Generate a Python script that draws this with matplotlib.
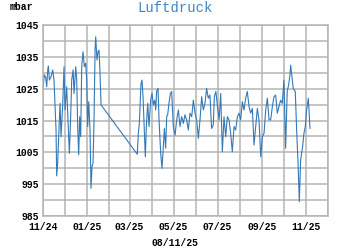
"""Luftdruck (air pressure) chart, Nov 2024 - Nov 2025, small web widget style."""

import datetime as dt

import matplotlib

matplotlib.use("Agg")

import matplotlib.dates as mdates  # noqa: E402
import matplotlib.pyplot as plt  # noqa: E402
import numpy as np  # noqa: E402

START = dt.datetime(2024, 11, 1)

# days since START, pressure in mbar
days = [
    0.0, 1.8, 3.7, 5.1, 6.5, 7.4, 8.8, 11.1, 13.4, 15.2,
    18.0, 18.9, 20.3, 22.2, 23.6, 24.9, 27.3, 29.1, 30.5, 32.8,
    34.2, 36.5, 38.3, 39.7, 41.6, 43.0, 45.3, 46.7, 48.0, 49.4,
    50.8, 52.2, 53.6, 55.4, 57.3, 59.1, 60.5, 61.9, 63.3, 65.1,
    66.5, 67.9, 69.3, 70.7, 72.1, 73.0, 74.8, 76.2, 77.6, 79.0,
    80.4, 130.7, 132.1, 133.5, 135.8, 137.2, 138.6, 141.8, 143.2, 145.1,
    146.9, 149.2, 151.1, 152.9, 154.8, 156.2, 157.5, 159.4, 160.8, 163.1,
    164.9, 166.8, 168.2, 170.0, 171.4, 172.8, 174.6, 176.5, 178.3, 180.6,
    183.0, 185.3, 187.6, 189.9, 192.2, 194.5, 196.8, 199.1, 201.4, 203.7,
    206.1, 208.4, 210.7, 213.0, 215.3, 217.6, 219.9, 222.2, 224.5, 226.8,
    229.1, 231.4, 233.7, 236.0, 237.5, 239.6, 241.8, 244.1, 246.3, 248.6,
    250.9, 253.2, 255.5, 257.8, 260.1, 262.4, 264.8, 267.1, 269.4, 271.7,
    274.0, 276.3, 278.6, 280.9, 283.2, 285.6, 287.9, 290.2, 292.5, 294.8,
    297.1, 299.4, 301.8, 304.1, 306.4, 308.7, 311.0, 313.3, 315.6, 317.9,
    320.2, 322.5, 324.8, 327.1, 329.4, 331.7, 334.0, 336.3, 338.5, 340.5,
    342.3, 343.3, 345.1, 346.9, 349.7, 351.6, 353.9, 355.3, 357.1, 359.9,
    361.7, 363.6, 365.4, 367.8, 370.1,
]
pressure = [
    1025.1, 1029.3, 1028.6, 1025.6, 1030.9, 1032.1, 1027.7, 1028.8, 1030.9, 1027.7,
    1012.0, 997.6, 1001.6, 1013.1, 1020.4, 1009.9, 1020.4, 1031.9, 1018.3, 1025.6,
    1017.3, 1004.7, 1016.2, 1027.7, 1030.9, 1023.5, 1031.9, 1027.7, 1013.1, 1004.2,
    1016.2, 1009.9, 1031.9, 1036.6, 1031.9, 1033.0, 1027.7, 1013.1, 1020.9, 1012.0,
    993.7, 1000.5, 1001.6, 1015.2, 1037.1, 1041.3, 1034.0, 1036.6, 1037.1, 1029.8,
    1019.9, 1004.4, 1011.0, 1014.1, 1026.6, 1027.7, 1022.5, 1003.6, 1013.1, 1020.4,
    1013.1, 1021.4, 1023.5, 1019.9, 1021.4, 1018.3, 1024.1, 1025.1, 1015.2, 1004.7,
    1000.0, 1006.8, 1012.5, 1006.3, 1016.2, 1016.8, 1020.4, 1023.5, 1024.1, 1013.1,
    1010.4, 1015.2, 1018.3, 1013.1, 1016.2, 1014.1, 1016.8, 1015.2, 1012.0, 1017.3,
    1016.2, 1021.4, 1017.3, 1015.2, 1009.4, 1015.2, 1022.5, 1018.3, 1020.4, 1025.1,
    1022.0, 1023.0, 1012.5, 1013.6, 1022.5, 1024.1, 1019.4, 1015.2, 1023.5, 1005.2,
    1016.2, 1009.9, 1016.2, 1015.2, 1011.0, 1005.2, 1013.1, 1012.0, 1016.2, 1017.3,
    1015.2, 1020.9, 1018.3, 1022.0, 1024.1, 1019.4, 1017.3, 1018.8, 1007.3, 1013.1,
    1018.8, 1015.2, 1003.6, 1009.9, 1011.0, 1018.3, 1022.0, 1015.2, 1015.2, 1019.4,
    1022.5, 1023.0, 1017.3, 1019.4, 1021.4, 1020.4, 1027.7, 1006.3, 1024.1, 1026.2,
    1029.3, 1032.4, 1028.8, 1025.1, 1024.1, 1012.0, 999.5, 989.5, 1002.6, 1006.8,
    1011.0, 1013.1, 1018.3, 1022.0, 1012.5,
]

y_ticks = list(range(985, 1046, 5))
month_ticks = [dt.datetime(2024 + (10 + i) // 12, (10 + i) % 12 + 1, 1) for i in range(14)]

FONT = "Liberation Mono"
GRID = "#b4b4b4"
LINE = "#3479b8"


def main():
    fig = plt.figure(figsize=(3.5, 2.5), dpi=100)
    ax = fig.add_axes([0.123, 0.136, 0.814, 0.764])

    t = mdates.date2num(START) + np.array(days)
    ax.plot(t, pressure, color=LINE, lw=0.8)

    ax.set_xlim(month_ticks[0], month_ticks[-1])
    ax.set_ylim(985, 1045)
    ax.set_xticks(month_ticks)
    ax.set_xticklabels([m.strftime("%m/%y") if i % 2 == 0 and i < 13 else ""
                        for i, m in enumerate(month_ticks)])
    ax.set_yticks(y_ticks)
    ax.set_yticklabels([str(v) if v % 10 == 5 else "" for v in y_ticks])

    ax.grid(True, color=GRID, lw=1.1)
    ax.set_axisbelow(True)
    for s in ax.spines.values():
        s.set_color(GRID)
        s.set_linewidth(1.1)
    ax.tick_params(length=0, pad=3)
    ax.tick_params(axis="x", pad=4.5)
    for lab in ax.get_xticklabels() + ax.get_yticklabels():
        lab.set_fontfamily(FONT)
        lab.set_fontweight("bold")
        lab.set_fontsize(7)

    fig.text(0.5, 1 - 8 / 250, "Luftdruck", ha="center", va="center",
             family=FONT, fontsize=10, color="#3d86c6")
    fig.text(10 / 350, 1 - 7 / 250, "mbar", ha="left", va="center",
             family=FONT, fontsize=7, fontweight="bold")
    fig.text(0.5, 1 - 243 / 250, "08/11/25", ha="center", va="center",
             family=FONT, fontsize=7, fontweight="bold")

    fig.savefig("out.png", dpi=100)


if __name__ == "__main__":
    main()
